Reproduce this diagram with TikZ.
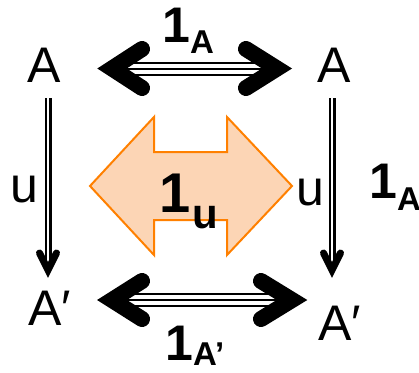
\documentclass[tikz,border=0pt]{standalone}
\usepackage{fontspec}
\setmainfont{Liberation Sans}
\definecolor{orfill}{RGB}{252,213,181}
\definecolor{orline}{RGB}{255,128,0}
\begin{document}
\begin{tikzpicture}[x=1pt,y=-1pt,
  lbl/.style={inner sep=0pt, anchor=base west, font=\fontsize{50}{50}\selectfont},
  idlbl/.style={inner sep=0pt, anchor=base west, font=\bfseries},
  tripleshaft/.style={line width=14pt, draw=black, postaction={draw=white, line width=10pt}, postaction={draw=black, line width=2pt}},
  dblshaft/.style={draw=black, double=white, line width=2.2pt, double distance=2.6pt},
  bighead/.style={draw=black, line width=16pt, line cap=round, line join=miter, miter limit=10},
  smallhead/.style={draw=black, line width=7pt, line cap=round, line join=miter, miter limit=10},
  bigarrow/.style={draw=orline, fill=orfill, line width=2pt, line join=miter}]
\useasboundingbox (0,0) rectangle (419,372);

% orange double arrow
\draw[bigarrow] (90,186) -- (154,117) -- (154,152) -- (227,152) -- (227,117) -- (292,186)
  -- (227,255) -- (227,220) -- (154,220) -- (154,255) -- cycle;

% objects
\node[lbl] (A1) at (27,82) {A};
\node[lbl] (A2) at (317,82) {A};
\node[lbl] (B1) at (28,325) {A′};
\node[lbl] (B2) at (318,340) {A′};
\node[lbl] (u1) at (10,202) {u};
\node[lbl] (u2) at (296,205) {u};

% arrow tips
\coordinate (tL) at (112,68.5);
\coordinate (tR) at (277,68.5);
\coordinate (bL) at (112,300);
\coordinate (bR) at (292,300);
\coordinate (vLt) at (48,98);
\coordinate (vL) at (48,270);
\coordinate (vRt) at (332,98);
\coordinate (vR) at (332,270);

% top arrow
\draw[tripleshaft] ([xshift=14pt]tL) -- ([xshift=-14pt]tR);
\draw[bighead] ([shift={(30,-19.5)}]tL) -- (tL) -- ([shift={(30,19.5)}]tL);
\draw[bighead] ([shift={(-31,-19.5)}]tR) -- (tR) -- ([shift={(-31,19.5)}]tR);

% bottom arrow
\draw[tripleshaft] ([xshift=14pt]bL) -- ([xshift=-14pt]bR);
\draw[bighead] ([shift={(30,-19)}]bL) -- (bL) -- ([shift={(30,19)}]bL);
\draw[bighead] ([shift={(-31,-19)}]bR) -- (bR) -- ([shift={(-31,19)}]bR);

% vertical arrows
\draw[dblshaft] (vLt) -- ([yshift=4pt]vL);
\draw[smallhead] ([shift={(-8.5,-17)}]vL) -- (vL) -- ([shift={(8.5,-17)}]vL);
\draw[dblshaft] (vRt) -- ([yshift=4pt]vR);
\draw[smallhead] ([shift={(-8.5,-17)}]vR) -- (vR) -- ([shift={(8.5,-17)}]vR);

% labels
\node[idlbl] (L1) at (162,42) {\fontsize{50}{50}\selectfont 1\raisebox{-11pt}{\fontsize{33}{33}\selectfont A}};
\node[idlbl] (L2) at (369,198) {\fontsize{50}{50}\selectfont 1\raisebox{-12pt}{\fontsize{33}{33}\selectfont A}};
\node[idlbl] (L3) at (165,360) {\fontsize{50}{50}\selectfont 1\raisebox{-5pt}{\fontsize{33}{33}\selectfont A’}};
\node[idlbl] (L4) at (159,212) {\fontsize{56}{56}\selectfont 1\kern2pt\raisebox{-16pt}{\fontsize{42}{42}\selectfont u}};
\end{tikzpicture}
\end{document}
